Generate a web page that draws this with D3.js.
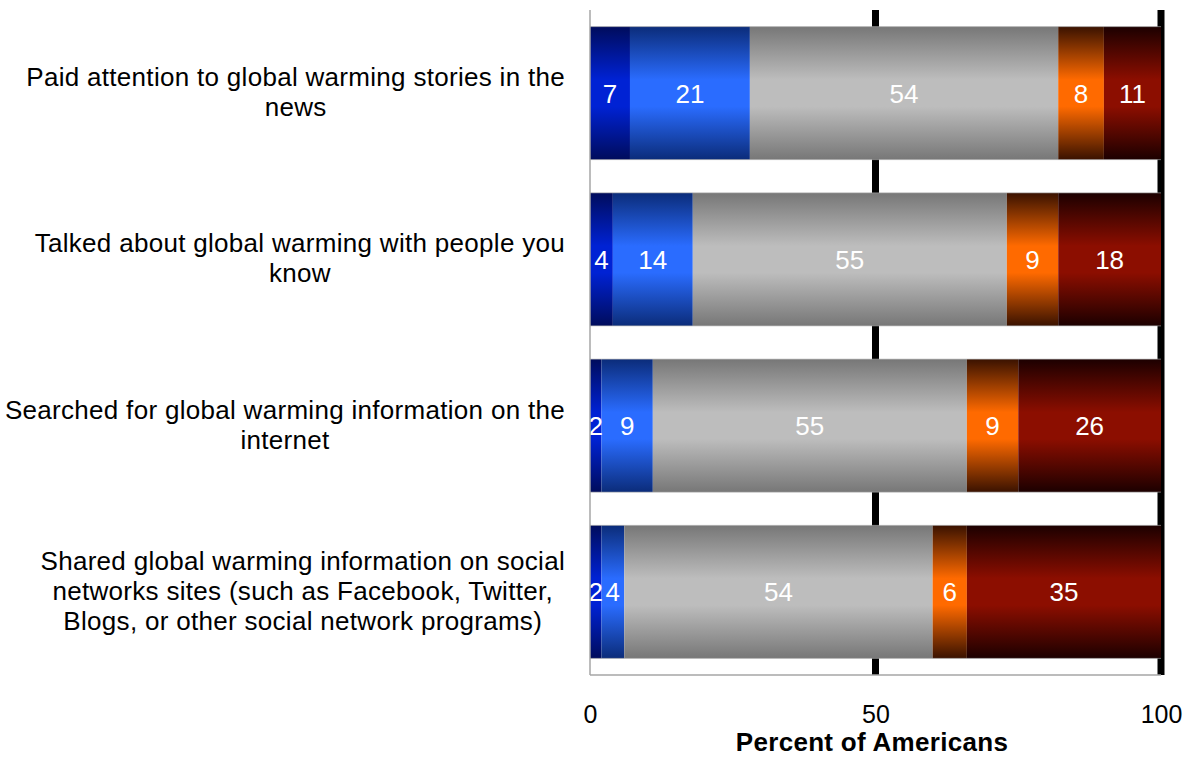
<!DOCTYPE html>
<html>
<head>
<meta charset="utf-8">
<script src="https://cdn.jsdelivr.net/npm/d3@7/dist/d3.min.js"></script>
<style>
  html, body { margin: 0; padding: 0; background: #ffffff; }
  svg { display: block; font-family: "Liberation Sans", Arial, sans-serif; }
</style>
</head>
<body>
<svg id="chart" width="1189" height="757"></svg>
<script>
// ---- data ----
const categories = [
  "Paid attention to global warming stories in the news",
  "Talked about global warming with people you know",
  "Searched for global warming information on the internet",
  "Shared global warming information on social networks sites (such as Facebook, Twitter, Blogs, or other social network programs)"
];
const categoryLines = [
  ["Paid attention to global warming stories in the", "news"],
  ["Talked about global warming with people you", "know"],
  ["Searched for global warming information on the", "internet"],
  ["Shared global warming information on social", "networks sites (such as Facebook, Twitter,", "Blogs, or other social network programs)"]
];
const seriesKeys = ["s1", "s2", "s3", "s4", "s5"];
const s1 = [7, 4, 2, 2];
const s2 = [21, 14, 9, 4];
const s3 = [54, 55, 55, 54];
const s4 = [8, 9, 9, 6];
const s5 = [11, 18, 26, 35];
const xTicks = [0, 50, 100];
const gridValues = [50, 100];
const xTitle = "Percent of Americans";

// colour pairs: [edge, centre]
const seriesColors = [
  ["#000c5c", "#0022d4"],
  ["#0b2c7a", "#2a6cff"],
  ["#777777", "#bdbdbd"],
  ["#3a1200", "#ff6a00"],
  ["#1c0000", "#8c0e00"]
];

const seriesValues = [s1, s2, s3, s4, s5];
const rows = categories.map((c, i) => {
  const r = { category: c, index: i };
  seriesKeys.forEach((k, j) => r[k] = seriesValues[j][i]);
  return r;
});

// ---- layout ----
const svg = d3.select("#chart");
const plotLeft = 590, plotRight = 1161, plotTop = 10, plotBottom = 675;

const x = d3.scaleLinear().domain([0, 100]).range([plotLeft, plotRight]).clamp(true);
const y = d3.scaleBand().domain(categories).range([plotTop, plotBottom])
  .paddingInner(0.2).paddingOuter(0.1);

// gradients
const defs = svg.append("defs");
seriesKeys.forEach((k, j) => {
  const g = defs.append("linearGradient").attr("id", "grad-" + k)
    .attr("x1", 0).attr("y1", 0).attr("x2", 0).attr("y2", 1);
  const [edge, mid] = seriesColors[j];
  g.append("stop").attr("offset", "0%").attr("stop-color", edge);
  g.append("stop").attr("offset", "40%").attr("stop-color", mid);
  g.append("stop").attr("offset", "60%").attr("stop-color", mid);
  g.append("stop").attr("offset", "100%").attr("stop-color", edge);
});

// gridlines (behind bars)
svg.append("g").selectAll("line").data(gridValues).join("line")
  .attr("x1", d => x(d)).attr("x2", d => x(d))
  .attr("y1", plotTop).attr("y2", plotBottom)
  .attr("stroke", "#000").attr("stroke-width", 7);

// stacked bars
const stack = d3.stack().keys(seriesKeys);
const stacked = stack(rows);

const layers = svg.append("g").selectAll("g").data(stacked).join("g")
  .attr("fill", d => "url(#grad-" + d.key + ")");

layers.selectAll("rect").data(d => d).join("rect")
  .attr("x", d => x(d[0]))
  .attr("width", d => Math.max(0, x(d[1]) - x(d[0])))
  .attr("y", d => y(d.data.category))
  .attr("height", y.bandwidth());

// thin top/bottom edge of bars
svg.append("g").selectAll("line").data(rows.flatMap(r => [y(r.category), y(r.category) + y.bandwidth()])).join("line")
  .attr("x1", plotLeft).attr("x2", x(100))
  .attr("y1", d => d).attr("y2", d => d)
  .attr("stroke", "rgba(170,170,170,0.6)").attr("stroke-width", 1);

// value labels
const labelG = svg.append("g");
stacked.forEach(layer => {
  labelG.selectAll(null).data(layer).join("text")
    .attr("x", d => (x(d[0]) + x(d[1])) / 2)
    .attr("y", d => y(d.data.category) + y.bandwidth() / 2 + 9.5)
    .attr("text-anchor", "middle")
    .attr("fill", "#ffffff")
    .attr("font-size", 26)
    .text(d => d.data[layer.key]);
});

// axis lines (gray)
svg.append("line").attr("x1", plotLeft).attr("x2", plotLeft)
  .attr("y1", plotTop).attr("y2", plotBottom)
  .attr("stroke", "#a6a6a6").attr("stroke-width", 1.5);
svg.append("line").attr("x1", plotLeft).attr("x2", plotRight)
  .attr("y1", plotBottom).attr("y2", plotBottom)
  .attr("stroke", "#a6a6a6").attr("stroke-width", 1.5);

// x axis tick labels
const xAxis = d3.axisBottom(x).tickValues(xTicks).tickSize(0).tickPadding(0);
const xg = svg.append("g").attr("transform", `translate(0,${plotBottom})`).call(xAxis);
xg.select(".domain").remove();
xg.selectAll("text")
  .attr("font-family", "Liberation Sans, Arial, sans-serif")
  .attr("font-size", 25).attr("fill", "#000")
  .attr("dy", null).attr("y", 48);

// axis title
svg.append("text").attr("x", 872).attr("y", 751)
  .attr("text-anchor", "middle").attr("font-weight", "bold")
  .attr("font-size", 26).attr("letter-spacing", 0.3)
  .attr("fill", "#000").text(xTitle);

// category labels (centered block, right edge near plot)
const catG = svg.append("g");
const lineH = 30;
categories.forEach((c, i) => {
  const lines = categoryLines[i];
  const cy = y(c) + y.bandwidth() / 2;
  const t = catG.append("text").attr("font-size", 26).attr("fill", "#000")
    .attr("letter-spacing", 0.3)
    .attr("text-anchor", "middle");
  const first = cy - (lines.length - 1) * lineH / 2 + 8;
  lines.forEach((ln, k) => {
    t.append("tspan").attr("x", 0).attr("y", first + k * lineH).text(ln);
  });
  let maxW = 0;
  t.selectAll("tspan").each(function () { maxW = Math.max(maxW, this.getComputedTextLength()); });
  const cx = 565 - maxW / 2;
  t.selectAll("tspan").attr("x", cx);
});
</script>
</body>
</html>
